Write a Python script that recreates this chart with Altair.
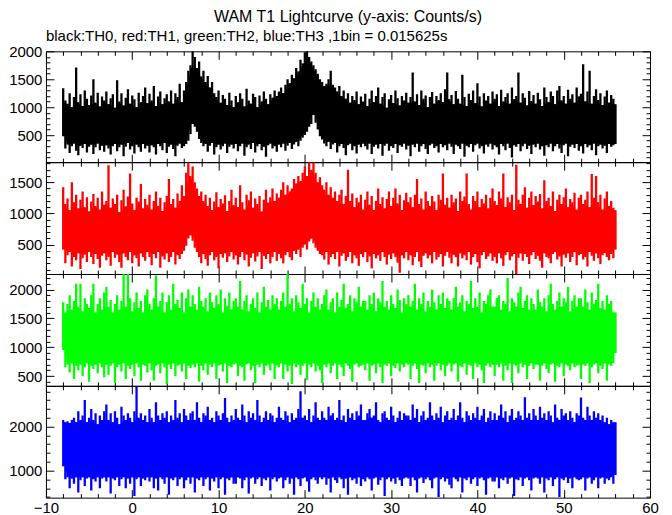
import altair as alt
import pandas as pd

FONT = "Liberation Sans"
T0 = -8.0    # first sample time (s)
DT = 0.25    # width of each read-off time slice (s)

# per-slice maximum / minimum of each light curve (counts/s)
th0_hi = [1340, 1120, 1060, 1250, 1000, 1180, 1710, 1090, 1230, 1020, 1300, 1150, 1040, 1210, 1500, 1080, 1260, 1010, 1190, 1120,
          1280, 1050, 1160, 1230, 990, 1480, 1100, 1250, 1030, 1170, 1320, 1060, 1210, 1140, 1000, 1260, 1090, 1200, 1350, 1070,
          1240, 1120, 1380, 1020, 1190, 1280, 1050, 1160, 1230, 1100, 1300, 1060, 1250, 1180, 1420, 1090, 1300, 1450, 1650, 1750,
          2000, 1900, 1700, 1820, 1550, 1650, 1450, 1560, 1350, 1450, 1250, 1180, 1300, 1080, 1220, 1150, 1040, 1260, 1120, 1000,
          1200, 1090, 1250, 1150, 1010, 1330, 1120, 1060, 1240, 1180, 1000, 1210, 1100, 1280, 1150, 1050, 1230, 1170, 1300, 1200,
          1280, 1350, 1250, 1400, 1500, 1430, 1580, 1520, 1700, 1640, 1850, 1780, 1980, 2000, 1900, 1820, 1750, 1680, 1600, 1500,
          1450, 1380, 1420, 1500, 1650, 1400, 1350, 1280, 1380, 1200, 1300, 1150, 1250, 1080, 1200, 1130, 1280, 1050, 1190, 1100,
          1240, 1020, 1150, 1300, 1090, 1200, 1350, 1060, 1180, 1250, 990, 1140, 1220, 1070, 1300, 1160, 1030, 1200, 1120, 1260,
          1080, 1180, 1620, 1100, 1230, 1040, 1300, 1150, 1210, 1000, 1180, 1270, 1060, 1200, 1130, 1250, 1090, 1320, 1620, 1140,
          1220, 1050, 1290, 1150, 1060, 1580, 1180, 1020, 1240, 1130, 1300, 1070, 1430, 1190, 1010, 1250, 1120, 1200, 1060, 1280,
          1150, 1230, 1020, 1310, 1100, 1180, 1250, 1060, 1350, 1140, 1200, 1620, 1080, 1250, 1170, 1030, 1290, 1110, 1220, 1060,
          1260, 1140, 1020, 1350, 1180, 1090, 1280, 1200, 1050, 1300, 1380, 1120, 1200, 1060, 1310, 1150, 1230, 1080, 1350, 1190,
          1240, 1770, 1100, 1280, 1650, 1060, 1200, 1320, 1130, 1250, 1040, 1190, 1300, 1080, 1220, 1150, 1050]
th0_lo = [480, 260, 330, 180, 300, 350, 220, 140, 310, 270, 340, 190, 290, 330, 160, 280, 350, 230, 310, 200,
          320, 260, 150, 300, 340, 210, 280, 330, 120, 290, 360, 240, 300, 170, 330, 280, 200, 340, 260, 310,
          190, 320, 280, 150, 340, 300, 230, 360, 180, 290, 330, 250, 120, 310, 350, 270, 300, 340, 400, 520,
          700, 650, 560, 430, 360, 300, 340, 200, 310, 360, 150, 280, 330, 240, 300, 350, 180, 290, 330, 260,
          340, 210, 300, 350, 130, 280, 330, 250, 360, 190, 300, 340, 230, 290, 110, 320, 350, 260, 300, 200,
          330, 280, 350, 220, 310, 360, 250, 330, 380, 300, 400, 450, 500, 560, 650, 700, 860, 720, 600, 480,
          420, 350, 300, 380, 250, 330, 360, 190, 300, 340, 270, 140, 320, 350, 230, 300, 170, 330, 280, 350,
          300, 240, 350, 160, 290, 330, 260, 340, 130, 310, 350, 220, 300, 270, 340, 180, 320, 290, 350, 240,
          310, 120, 330, 280, 350, 200, 300, 340, 250, 160, 320, 350, 270, 300, 190, 340, 280, 320, 230, 350,
          290, 160, 330, 300, 250, 350, 110, 310, 280, 340, 200, 320, 350, 260, 300, 170, 330, 290, 350, 240,
          320, 280, 150, 340, 300, 230, 350, 270, 100, 320, 290, 340, 210, 300, 350, 250, 310, 160, 330, 280,
          350, 240, 300, 130, 320, 280, 350, 210, 300, 340, 260, 180, 320, 350, 120, 290, 330, 270, 340, 220,
          300, 170, 340, 280, 320, 230, 350, 140, 300, 330, 260, 310, 180, 340, 290, 320, 340]

th1_hi = [1420, 1150, 1240, 1050, 1500, 1180, 1300, 1080, 1220, 1350, 1100, 1260, 1030, 1190, 1310, 1120, 1250, 1060, 1350, 1140,
          1200, 1770, 1090, 1240, 1150, 1300, 1020, 1210, 1380, 1110, 1270, 1640, 1160, 1050, 1250, 1190, 1470, 1080, 1230, 1140,
          1300, 1060, 1200, 1350, 1120, 1250, 1040, 1180, 1280, 1550, 1150, 1230, 1090, 1320, 1200, 1450, 1280, 1650, 1820, 1600,
          1750, 1500, 1400, 1280, 1350, 1200, 1300, 1120, 1250, 1050, 1190, 1340, 1100, 1230, 1160, 1290, 1040, 1200, 1380, 1130,
          1250, 1100, 1450, 1180, 1060, 1300, 1210, 1350, 1090, 1240, 1150, 1280, 1030, 1220, 1380, 1170, 1260, 1400, 1200, 1320,
          1250, 1380, 1500, 1300, 1450, 1350, 1400, 1550, 1480, 1600, 1520, 1650, 1750, 1600, 1820, 1700, 1820, 1650, 1500, 1580,
          1450, 1380, 1500, 1300, 1420, 1250, 1350, 1200, 1300, 1380, 1150, 1280, 1700, 1200, 1320, 1100, 1250, 1180, 1300, 1060,
          1220, 1350, 1140, 1280, 1050, 1200, 1400, 1150, 1260, 1080, 1230, 1350, 1120, 1250, 1400, 1160, 1300, 1050, 1210, 1330,
          1180, 1260, 1100, 1300, 1550, 1150, 1240, 1060, 1350, 1200, 1120, 1280, 1190, 1050, 1300, 1220, 1640, 1140, 1250, 1090,
          1300, 1180, 1240, 1040, 1350, 1200, 1270, 1640, 1150, 1060, 1280, 1200, 1350, 1100, 1230, 1160, 1300, 1080, 1250, 1400,
          1200, 1130, 1350, 1240, 1640, 1100, 1260, 1180, 1300, 1050, 1780, 1220, 1150, 1300, 1420, 1090, 1250, 1350, 1130, 1280,
          1190, 1310, 1080, 1530, 1200, 1250, 1120, 1350, 1040, 1220, 1300, 1150, 1260, 1400, 1100, 1230, 1180, 1330, 1060, 1250,
          1300, 1150, 1220, 1350, 1100, 1630, 1250, 1600, 1180, 1300, 1060, 1240, 1350, 1120, 1200, 1090, 1050]
th1_lo = [420, 200, 330, 380, 150, 300, 250, 360, 110, 280, 340, 220, 380, 300, 190, 350, 270, 130, 320, 360,
          250, 300, 160, 380, 290, 340, 220, 130, 360, 300, 250, 380, 200, 330, 280, 150, 360, 300, 240, 380,
          300, 170, 350, 280, 380, 130, 310, 260, 360, 220, 300, 380, 180, 330, 270, 350, 400, 480, 600, 650,
          560, 450, 380, 300, 200, 350, 270, 160, 330, 380, 250, 300, 120, 350, 290, 360, 220, 310, 380, 260,
          330, 180, 300, 380, 250, 340, 150, 290, 360, 230, 310, 380, 110, 320, 270, 350, 200, 300, 380, 240,
          350, 280, 200, 330, 380, 300, 250, 400, 350, 420, 300, 450, 500, 420, 550, 600, 520, 450, 400, 350,
          330, 260, 380, 180, 300, 350, 270, 380, 150, 320, 360, 240, 300, 380, 200, 330, 280, 160, 350, 300,
          380, 220, 310, 120, 350, 280, 330, 240, 380, 300, 180, 340, 270, 360, 300, 210, 50, 330, 280, 380,
          250, 330, 170, 300, 380, 230, 140, 320, 360, 280, 330, 200, 380, 260, 300, 350, 150, 320, 380, 290,
          200, 340, 300, 150, 360, 280, 330, 250, 380, 180, 300, 350, 220, 120, 330, 380, 270, 310, 360, 240,
          300, 200, 360, 280, 160, 330, 380, 250, 310, 350, 30, 290, 360, 240, 350, 300, 190, 330, 380, 270,
          320, 240, 130, 360, 300, 280, 200, 350, 380, 260, 310, 150, 340, 290, 360, 220, 300, 380, 170, 330,
          350, 260, 300, 150, 380, 320, 240, 360, 280, 190, 330, 370, 300, 250, 350, 280, 420]

th2_hi = [1780, 1600, 1750, 1900, 1650, 1800, 2100, 1700, 2100, 1620, 1850, 1750, 1680, 1900, 2100, 1600, 1750, 1850, 1650, 1950,
          2050, 1700, 1820, 1600, 1750, 1900, 1650, 1800, 2270, 1700, 2270, 1850, 1620, 1780, 1950, 1680, 1800, 1600, 1900, 2000,
          1750, 1650, 1850, 2250, 1700, 1800, 1950, 1600, 1780, 1900, 1650, 2100, 1750, 1820, 1680, 1950, 1600, 1850, 2000, 1700,
          1900, 1750, 1650, 2050, 1800, 1700, 1850, 1620, 1950, 1780, 1680, 1900, 1750, 2000, 1600, 1850, 1720, 1950, 1650, 1800,
          1850, 1700, 2150, 1650, 1800, 1900, 1620, 1750, 1850, 1680, 1950, 1600, 1780, 2050, 1700, 1820, 1650, 1900, 1750, 1850,
          1650, 1800, 1950, 1700, 2270, 1750, 1850, 1620, 1900, 1780, 1680, 2100, 1750, 1850, 1600, 1800, 1950, 1700, 1850, 1650,
          1750, 1900, 2000, 1650, 1780, 1850, 1600, 1950, 1700, 1820, 2100, 1680, 1750, 1900, 1620, 1850, 1780, 2050, 1700, 1800,
          1800, 1650, 1900, 1750, 1950, 1620, 1850, 1780, 2150, 1700, 1800, 1650, 1900, 1750, 1680, 2000, 1820, 1600, 1850, 1750,
          1900, 1700, 1800, 2100, 1650, 1850, 1750, 1950, 1620, 1800, 1700, 2000, 1780, 1650, 1900, 1750, 1950, 1680, 1850, 1800,
          1650, 1850, 2050, 1700, 1780, 1900, 1620, 1800, 1750, 2150, 1680, 1850, 1700, 1950, 1600, 1800, 1750, 1900, 2000, 1700,
          1700, 1850, 1900, 1650, 1800, 1750, 2200, 1620, 1850, 1780, 1700, 1950, 2050, 1680, 1800, 1900, 1650, 1850, 1750, 1650,
          2000, 1780, 1700, 1850, 1620, 1900, 2100, 1750, 1650, 1800, 1950, 1700, 1850, 1780, 2050, 1620, 1800, 1900, 1700, 1850,
          1850, 1700, 2000, 1780, 1650, 1950, 1750, 1820, 2100, 1680, 1800, 1650, 1900, 1750, 1800, 1600, 1600]
th2_lo = [950, 650, 700, 560, 720, 450, 680, 600, 700, 500, 650, 720, 400, 680, 620, 700, 550, 720, 650, 480,
          700, 520, 680, 720, 380, 650, 700, 580, 720, 450, 680, 620, 700, 500, 720, 650, 420, 700, 680, 560,
          720, 600, 420, 680, 700, 550, 720, 650, 360, 700, 620, 720, 500, 680, 700, 580, 720, 450, 680, 640,
          700, 650, 720, 400, 680, 600, 720, 520, 700, 650, 720, 450, 680, 700, 580, 720, 380, 680, 650, 700,
          720, 500, 680, 650, 420, 700, 720, 600, 680, 380, 700, 650, 720, 520, 680, 700, 600, 720, 450, 680,
          650, 720, 450, 700, 580, 680, 360, 720, 650, 700, 520, 680, 720, 430, 700, 650, 720, 580, 680, 600,
          380, 700, 650, 720, 550, 680, 720, 450, 700, 650, 500, 720, 680, 620, 400, 700, 720, 650, 680, 700,
          600, 720, 420, 680, 700, 550, 720, 650, 380, 700, 680, 720, 500, 680, 640, 720, 580, 700, 650, 720,
          700, 450, 680, 720, 620, 380, 700, 680, 550, 720, 650, 700, 420, 680, 720, 600, 700, 500, 680, 720,
          580, 700, 720, 400, 680, 650, 720, 520, 700, 680, 450, 720, 650, 700, 600, 380, 680, 720, 650, 700,
          500, 700, 650, 720, 420, 680, 600, 720, 380, 700, 680, 550, 720, 650, 700, 450, 680, 720, 620, 700,
          700, 420, 680, 720, 620, 550, 700, 720, 400, 680, 650, 720, 500, 700, 680, 600, 720, 650, 680, 700,
          450, 700, 680, 720, 380, 650, 700, 720, 550, 680, 620, 720, 420, 700, 680, 720, 900]

th3_hi = [2150, 2100, 2120, 2080, 2150, 2200, 2100, 2350, 2150, 2250, 2600, 2100, 2200, 2400, 2150, 2300, 2050, 2250, 2150, 2350,
          2500, 2150, 2300, 2100, 2350, 2200, 2050, 2450, 2250, 2150, 2300, 2200, 2100, 2350, 2910, 2200, 2300, 2150, 2250, 2100,
          2400, 2200, 2100, 2550, 2250, 2150, 2300, 2200, 2350, 2100, 2250, 2150, 2600, 2200, 2300, 2100, 2400, 2250, 2150, 2300,
          2350, 2150, 2550, 2200, 2100, 2300, 2250, 2450, 2150, 2200, 2100, 2350, 2250, 2150, 2300, 2650, 2200, 2100, 2250, 2150,
          2400, 2200, 2150, 2500, 2250, 2100, 2350, 2200, 2300, 2150, 2600, 2250, 2100, 2200, 2350, 2150, 2300, 2250, 2100, 2200,
          2450, 2200, 2150, 2350, 2250, 2100, 2300, 2150, 2200, 2400, 2800, 2200, 2250, 2150, 2400, 2100, 2250, 2550, 2200, 2150,
          2350, 2200, 2150, 2450, 2250, 2300, 2150, 2200, 2600, 2150, 2250, 2100, 2400, 2200, 2300, 2150, 2350, 2250, 2500, 2150,
          2150, 2300, 2400, 2200, 2250, 2550, 2150, 2100, 2300, 2350, 2200, 2150, 2450, 2250, 2100, 2200, 2350, 2150, 2300, 2250,
          2250, 2150, 2500, 2200, 2400, 2100, 2250, 2350, 2150, 2200, 2550, 2250, 2150, 2300, 2200, 2450, 2100, 2250, 2350, 2150,
          2200, 2400, 2150, 2250, 2550, 2200, 2100, 2350, 2250, 2150, 2300, 2200, 2450, 2150, 2250, 2400, 2100, 2200, 2350, 2150,
          2300, 2150, 2250, 2500, 2200, 2350, 2100, 2250, 2400, 2150, 2200, 2350, 2250, 2150, 2665, 2200, 2300, 2150, 2400, 2250,
          2150, 2450, 2200, 2300, 2150, 2350, 2250, 2100, 2500, 2200, 2150, 2400, 2250, 2300, 2150, 2350, 2200, 2100, 2300, 2250,
          2660, 2200, 2150, 2450, 2250, 2150, 2350, 2200, 2300, 2150, 2250, 2100, 2200, 2050, 2150, 2100, 2100]
th3_lo = [1100, 800, 850, 600, 820, 700, 850, 500, 780, 850, 650, 820, 850, 550, 800, 750, 850, 600, 820, 850,
          750, 850, 480, 820, 780, 850, 650, 800, 850, 600, 820, 700, 850, 420, 800, 850, 650, 820, 780, 850,
          750, 850, 600, 820, 550, 850, 800, 700, 850, 450, 820, 780, 850, 650, 800, 850, 600, 780, 850, 700,
          850, 500, 820, 780, 850, 650, 800, 850, 550, 820, 750, 850, 600, 800, 850, 450, 820, 780, 850, 700,
          700, 850, 820, 600, 780, 850, 480, 820, 850, 700, 800, 850, 650, 820, 780, 850, 550, 800, 850, 750,
          820, 850, 600, 780, 850, 700, 820, 450, 850, 800, 650, 820, 850, 750, 520, 800, 850, 780, 700, 850,
          800, 850, 680, 820, 500, 850, 780, 720, 850, 800, 600, 820, 450, 850, 780, 820, 700, 850, 650, 800,
          750, 850, 800, 550, 820, 850, 680, 780, 850, 420, 800, 850, 750, 820, 700, 850, 780, 650, 820, 850,
          820, 650, 850, 780, 500, 820, 850, 720, 800, 850, 780, 600, 820, 850, 400, 800, 850, 750, 820, 680,
          600, 850, 800, 750, 850, 500, 820, 780, 850, 700, 800, 850, 650, 820, 850, 780, 450, 820, 850, 750,
          750, 850, 600, 820, 780, 850, 700, 820, 850, 420, 800, 780, 850, 650, 820, 850, 780, 550, 820, 850,
          820, 700, 850, 500, 820, 780, 850, 650, 800, 850, 400, 820, 780, 850, 720, 820, 600, 850, 800, 780,
          800, 850, 550, 820, 850, 700, 780, 850, 600, 820, 850, 700, 820, 780, 850, 700, 900]

x_domain = [-10, 60]
x_ticks = list(range(-10, 61, 2))

TITLE = "WAM T1 Lightcurve (y-axis: Counts/s)"
SUBTITLE = "black:TH0, red:TH1, green:TH2, blue:TH3 ,1bin = 0.015625s"

panels = [
    dict(hi=th0_hi, lo=th0_lo, color="#000000", domain=[15, 2000],
         ticks=list(range(100, 2001, 100)), major=500, height=111),
    dict(hi=th1_hi, lo=th1_lo, color="#ff0000", domain=[30, 1820],
         ticks=list(range(100, 1801, 100)), major=500, height=112),
    dict(hi=th2_hi, lo=th2_lo, color="#00ff00", domain=[330, 2270],
         ticks=list(range(400, 2201, 100)), major=500, height=112),
    dict(hi=th3_hi, lo=th3_lo, color="#0000ff", domain=[385, 2925],
         ticks=list(range(400, 2801, 200)), major=1000, height=112),
]

common_axis = dict(domain=False, grid=False, tickColor="black", tickWidth=1,
                   labelFont=FONT, labelFontSize=15, labelColor="black",
                   labelFlush=False, labelOverlap=False, format="d", title=None)


def make_panel(p, last, title=None):
    t = [T0 + DT * i for i in range(len(p["hi"]))]
    df = pd.DataFrame({"t": t, "hi": p["hi"], "lo": p["lo"]})
    xs = alt.Scale(domain=x_domain, nice=False, zero=False)
    ys = alt.Scale(domain=p["domain"], nice=False, zero=False)
    xsize = {"expr": "datum.value % 10 === 0 ? -8 : -4"}
    ysize = {"expr": f"datum.value % {p['major']} === 0 ? -8 : -4"}

    xb = alt.Axis(orient="bottom", values=x_ticks, tickSize=xsize,
                  labels=last, labelExpr="datum.value % 10 === 0 ? datum.label : ''",
                  labelPadding=11, **common_axis)
    xt = alt.Axis(orient="top", values=x_ticks, tickSize=xsize, labels=False, **common_axis)
    yl = alt.Axis(orient="left", values=p["ticks"], tickSize=ysize,
                  labelExpr=f"datum.value % {p['major']} === 0 ? datum.label : ''",
                  labelPadding=12, **common_axis)
    yr = alt.Axis(orient="right", values=p["ticks"], tickSize=ysize, labels=False, **common_axis)

    base = alt.Chart(df)
    # solid interior: the part of the band that neighbouring slices all cover
    core = base.transform_window(
        core_hi="min(hi)", core_lo="max(lo)", frame=[-1, 1], sort=[alt.SortField("t")]
    ).mark_area(color=p["color"], opacity=1, clip=True).encode(
        x=alt.X("t:Q", scale=xs, axis=xb),
        y=alt.Y("core_lo:Q", scale=ys, axis=yl),
        y2="core_hi:Q",
    )
    bars = base.mark_rule(color=p["color"], strokeWidth=2.3, clip=True).encode(
        x=alt.X("t:Q", scale=xs, axis=xt),
        y=alt.Y("lo:Q", scale=ys, axis=yr),
        y2="hi:Q",
    )
    ch = alt.layer(core, bars).resolve_axis(x="independent", y="independent")
    props = dict(width=605, height=p["height"])
    if title is not None:
        props["title"] = title
    return ch.properties(**props)


sub = alt.TitleParams(SUBTITLE, anchor="start", frame="group", font=FONT,
                      fontSize=15, fontWeight="normal", color="black", offset=0)
charts = [make_panel(p, i == len(panels) - 1, sub if i == 0 else None)
          for i, p in enumerate(panels)]

chart = alt.vconcat(*charts, spacing=0, bounds="flush").properties(
    title=alt.TitleParams(TITLE, anchor="middle", frame="group", font=FONT,
                          fontSize=16, fontWeight="normal", color="black", offset=4),
    padding={"left": 0, "top": 0, "right": 5, "bottom": 0},
).configure_view(stroke="black", strokeWidth=1)

chart.save("out.html", embed_options={"renderer": "svg", "actions": False})
